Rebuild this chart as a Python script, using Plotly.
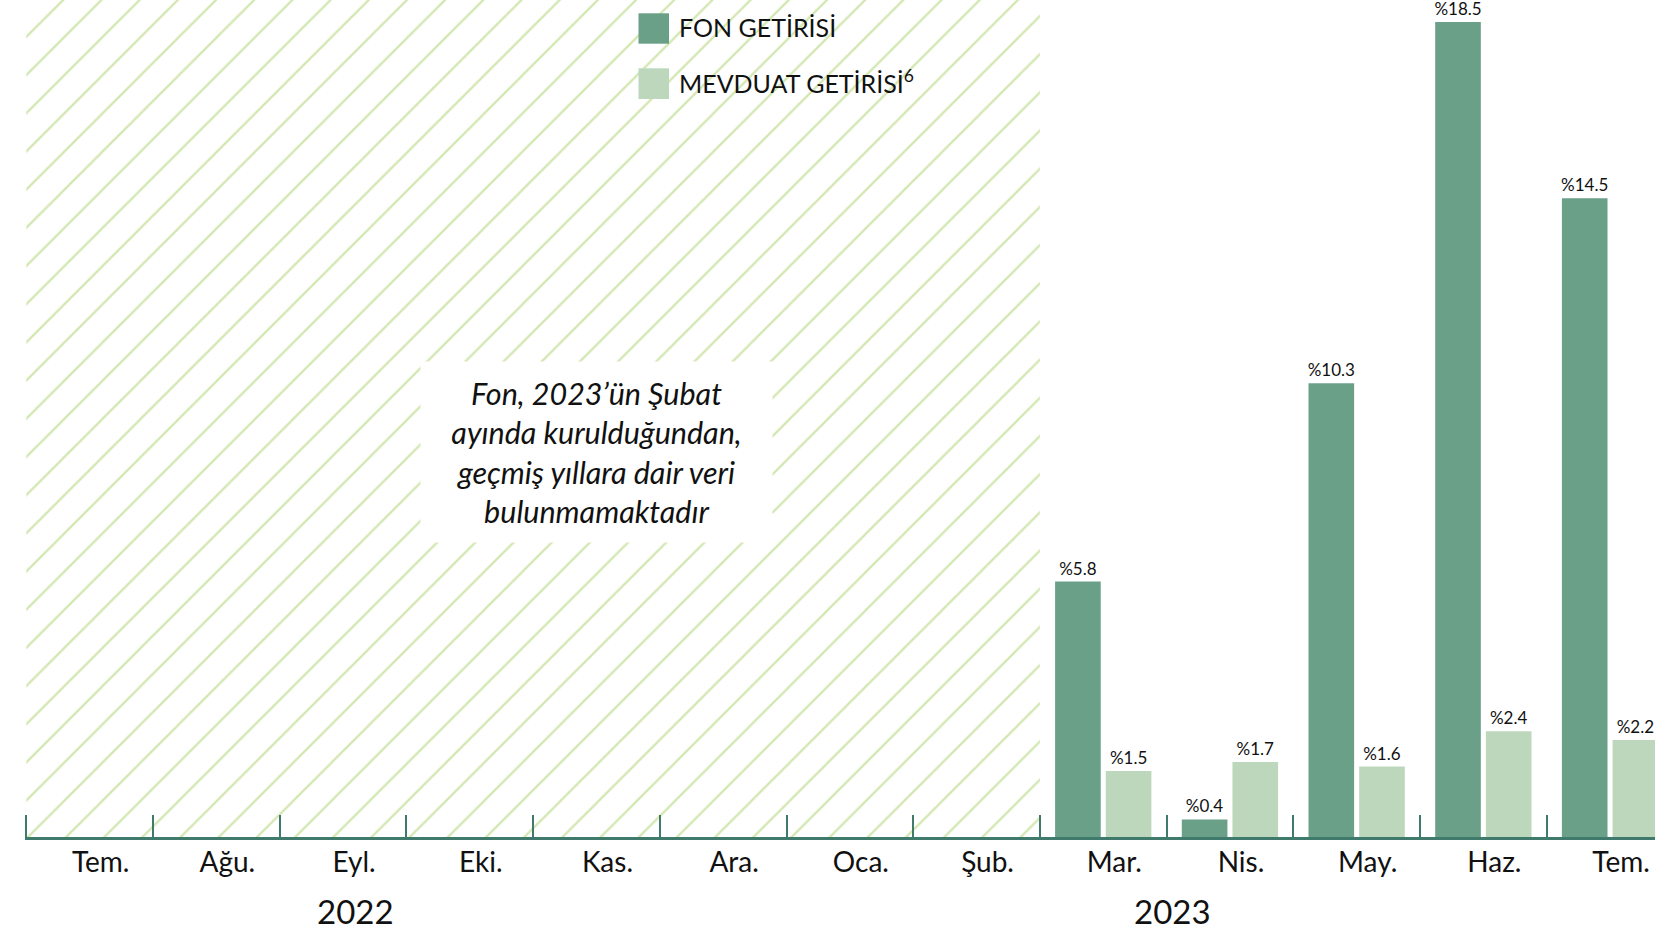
import plotly.graph_objects as go

# ---------------- data ----------------
periods = ["2022-07", "2022-08", "2022-09", "2022-10", "2022-11", "2022-12",
           "2023-01", "2023-02", "2023-03", "2023-04", "2023-05", "2023-06", "2023-07"]
month_labels = ["Tem.", "Ağu.", "Eyl.", "Eki.", "Kas.", "Ara.",
                "Oca.", "Şub.", "Mar.", "Nis.", "May.", "Haz.", "Tem."]
fon_getirisi = [None, None, None, None, None, None, None, None, 5.8, 0.4, 10.3, 18.5, 14.5]
mevduat_getirisi = [None, None, None, None, None, None, None, None, 1.5, 1.7, 1.6, 2.4, 2.2]
series_names = ["FON GETİRİSİ", "MEVDUAT GETİRİSİ<sup>6</sup>"]
year_labels = ["2022", "2023"]
note_text = ("<i>Fon, 2023’ün Şubat<br>ayında kurulduğundan,<br>"
             "geçmiş yıllara dair veri<br>bulunmamaktadır</i>")

# ---------------- style ----------------
FONT = "Lato"
FON_COLOR = "#6a9f88"
MEV_COLOR = "#bdd7bd"
AXIS_COLOR = "#3f7a6d"
HATCH_COLOR = "#d3e7b2"
TEXT_COLOR = "#111111"

W, H = 1655, 932
ML, MR, MT, MB = 25, 0, 0, 95
plot_w = W - ML - MR
plot_h = H - MT - MB
cat_px = 126.7
px_per_unit = 44.05
x_start = -0.5 - 1.3 / cat_px
x_range = [x_start, x_start + plot_w / cat_px]
y_top = plot_h / px_per_unit


def paper(px, py):
    return (px - ML) / plot_w, (MT + plot_h - py) / plot_h


first_idx = next(i for i, v in enumerate(fon_getirisi) if v is not None)
hatch_end = first_idx - 0.5

fig = go.Figure()

# hatched "no data" area
fig.add_trace(go.Scatter(
    x=[-0.5, hatch_end, hatch_end, -0.5, -0.5],
    y=[0, 0, y_top, y_top, 0],
    xaxis="x2", yaxis="y",
    mode="lines", line=dict(width=0), fill="toself",
    fillcolor="rgba(0,0,0,0)",
    fillpattern=dict(shape="/", size=27, solidity=0.085, fgcolor=HATCH_COLOR,
                     bgcolor="rgba(0,0,0,0)", fgopacity=1),
    hoverinfo="skip", showlegend=False,
))

for name, vals, col in [(series_names[0], fon_getirisi, FON_COLOR),
                        (series_names[1], mevduat_getirisi, MEV_COLOR)]:
    xs = [p for p, v in zip(periods, vals) if v is not None]
    ys = [v for v in vals if v is not None]
    fig.add_trace(go.Bar(
        x=xs, y=ys, name=name, marker=dict(color=col, line=dict(width=0)),
        text=[f"%{v}" for v in ys], textposition="outside", cliponaxis=False,
        constraintext="none",
        textfont=dict(family=FONT, size=17, color=TEXT_COLOR),
        showlegend=False,
    ))

annotations = []
shapes = []

# manual legend
for (y0, y1, yc), name, col in [((13.3, 43.7, 27.0), series_names[0], FON_COLOR),
                                ((68.3, 99.0, 81.5), series_names[1], MEV_COLOR)]:
    x0p, y0p = paper(638.5, y1)
    x1p, y1p = paper(669.0, y0)
    shapes.append(dict(type="rect", xref="paper", yref="paper", x0=x0p, x1=x1p,
                       y0=y0p, y1=y1p, fillcolor=col, line=dict(width=0)))
    tx, ty = paper(677.0, yc)
    annotations.append(dict(xref="paper", yref="paper", x=tx, y=ty, text=name,
                            showarrow=False, xanchor="left", yanchor="middle",
                            font=dict(family=FONT, size=25, color=TEXT_COLOR)))

# note box
_, ny = paper(0, 452)
annotations.append(dict(xref="x2", yref="paper", x=4.0, y=ny, text=note_text,
                        showarrow=False, xanchor="center", yanchor="middle",
                        bgcolor="white", width=351, height=180, borderpad=0,
                        align="center", valign="middle",
                        font=dict(family=FONT, size=30.5, color=TEXT_COLOR)))

# year labels
_, yy = paper(0, 911)
for lbl, xi in zip(year_labels, [2.1, 8.55]):
    annotations.append(dict(xref="x2", yref="paper", x=xi, y=yy, text=lbl,
                            showarrow=False, xanchor="center", yanchor="middle",
                            font=dict(family=FONT, size=33, color=TEXT_COLOR)))

fig.update_layout(
    width=W, height=H,
    margin=dict(l=ML, r=MR, t=MT, b=MB, pad=0),
    paper_bgcolor="white", plot_bgcolor="white",
    barmode="group", bargap=0.2, bargroupgap=0.1,
    showlegend=False,
    font=dict(family=FONT, color=TEXT_COLOR),
    xaxis=dict(
        type="category", categoryorder="array", categoryarray=periods,
        tickmode="array", tickvals=periods, ticktext=month_labels,
        tickson="boundaries", ticks="inside", ticklen=22, tickwidth=2,
        tickcolor=AXIS_COLOR, showline=True, linecolor=AXIS_COLOR, linewidth=2.5,
        showgrid=False, zeroline=False, range=x_range,
        tickfont=dict(family=FONT, size=28, color=TEXT_COLOR),
        ticklabelshift=11, ticklabelstandoff=-1,
    ),
    xaxis2=dict(overlaying="x", anchor="y", range=x_range, visible=False,
                showgrid=False, zeroline=False),
    yaxis=dict(range=[0, y_top], visible=False, showgrid=False, zeroline=False),
    shapes=shapes,
    annotations=annotations,
)

fig.write_html("out.html", config={"displayModeBar": False},
               post_script="document.body.style.margin='0';")
